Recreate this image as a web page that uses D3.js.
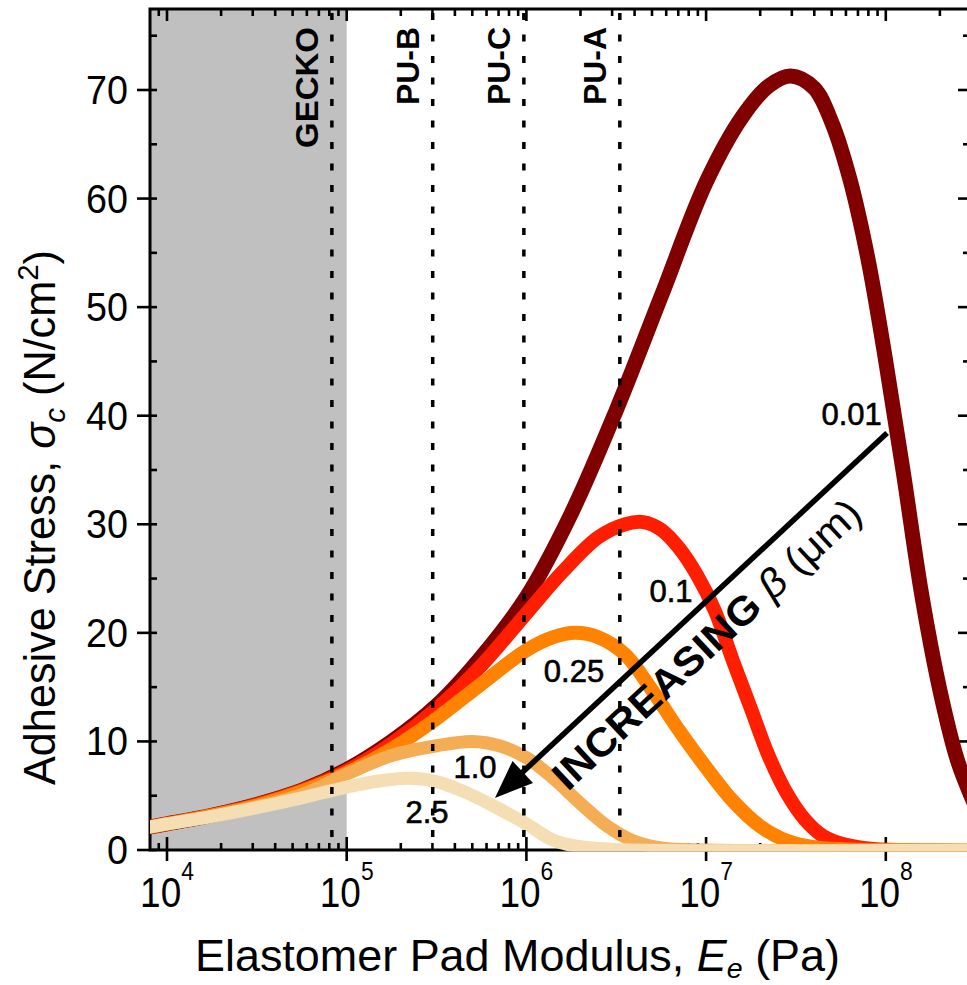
<!DOCTYPE html>
<html><head><meta charset="utf-8">
<script src="https://cdn.jsdelivr.net/npm/d3@7"></script>
<style>
html,body{margin:0;padding:0;background:#fff;}
text{font-family:"Liberation Sans",Arial,Helvetica,sans-serif;}
</style></head>
<body>
<svg id="chart" width="967" height="985"></svg>
<script>
// ---------- DATA ----------
// log10 of modulus E (Pa) and adhesive stress (N/cm^2) for each beta (um)
const beta001_logE = [3.9,4.0,4.25,4.5,4.75,5.0,5.25,5.5,5.75,6.0,6.25,6.5,6.75,7.0,7.2,7.35,7.47,7.6,7.7,7.8,7.9,8.0,8.1,8.2,8.3,8.4,8.5];
const beta001_S    = [2.1,2.4,3.2,4.2,5.5,7.4,10.0,13.3,17.8,23.3,31.0,40.5,51.0,61.5,67.5,70.4,71.3,70.2,67.0,61.8,54.5,45.0,34.5,23.5,14.8,8.2,4.0];

const beta01_logE = [3.9,4.0,4.25,4.5,4.75,5.0,5.25,5.5,5.75,6.0,6.2,6.4,6.55,6.65,6.75,6.85,6.95,7.05,7.15,7.25,7.35,7.45,7.55,7.65,7.75,7.9,8.1,8.5];
const beta01_S    = [2.1,2.4,3.2,4.2,5.5,7.3,9.8,13.0,17.0,21.8,25.6,28.8,30.0,30.2,29.5,27.8,25.3,22.0,17.4,13.0,8.6,5.2,2.8,1.3,0.6,0.15,0.0,0.0];

const beta025_logE = [3.9,4.0,4.25,4.5,4.75,5.0,5.25,5.5,5.75,6.0,6.15,6.27,6.4,6.55,6.7,6.85,7.0,7.15,7.3,7.45,7.6,7.8,8.5];
const beta025_S    = [2.1,2.4,3.2,4.1,5.4,7.1,9.3,12.1,15.3,18.4,19.6,20.0,19.6,18.0,14.7,11.0,7.6,4.5,2.2,0.85,0.25,0.05,0];

const beta10_logE = [3.9,4.0,4.25,4.5,4.75,5.0,5.25,5.5,5.7,5.85,6.0,6.15,6.3,6.45,6.6,6.75,7.0,8.5];
const beta10_S    = [2.1,2.4,3.1,4.0,5.1,7.0,8.7,9.6,10.0,9.6,8.5,6.6,4.3,2.2,0.8,0.2,0,0];

const beta25_logE = [3.9,4.0,4.25,4.5,4.75,5.0,5.2,5.35,5.5,5.65,5.8,6.0,6.15,6.3,6.5,8.5];
const beta25_S    = [2.1,2.4,3.1,3.9,4.8,5.8,6.4,6.6,6.3,5.4,4.2,2.4,0.9,0.3,0.05,0];

const seriesNames  = ["0.01","0.1","0.25","1.0","2.5"];
const seriesColors = ["#800000","#ff1e00","#ff8200","#f5ad55","#f5deb3"];

// Reference moduli (Pa) for the dotted lines
const refNames  = ["GECKO","PU-B","PU-C","PU-A"];
const refModuli = [8.27e4, 3.01e5, 9.68e5, 3.31e6];

// Curve label anchors (log10 E, stress)
const labelLogE = [7.81, 6.805, 6.265, 5.714, 5.447];
const labelS    = [39.1, 22.8, 15.5, 6.6, 2.5];

// Axis ticks
const xMajorTicks = [1e4,1e5,1e6,1e7,1e8];
const xTickExp    = ["4","5","6","7","8"];
const yMajorTicks = [0,10,20,30,40,50,60,70];
const yMinorTicks = [5,15,25,35,45,55,65,75];

// Shaded region (Pa) and arrow (log10 E, stress)
const shadeRange = [10**3.9054, 1e5];
const arrowFrom  = [8.007, 38.4];
const arrowTo    = [5.825, 4.8];
const arrowTextAt = [7.0, 19.0];

// ---------- CHART ----------
const L = 150, R = 970, T = 9, B = 850;
const svg = d3.select("#chart");
const x = d3.scaleLog().domain([10**3.9054, 10**8.4686]).range([L, R]);
const y = d3.scaleLinear().domain([0, 77.46]).range([B, T]);

svg.append("defs").append("clipPath").attr("id","clip")
  .append("rect").attr("x",L).attr("y",T).attr("width",R-L).attr("height",B-T+1.5);

// gray shading
svg.append("rect").attr("x",x(shadeRange[0])).attr("y",T)
  .attr("width",x(shadeRange[1])-x(shadeRange[0])).attr("height",B-T)
  .attr("fill","#c0c0c0");

// minor x ticks
const xMinor = [];
for (let k=3;k<=8;k++) for (let m=2;m<=9;m++){ const v=m*10**k; if (v>x.domain()[0] && v<x.domain()[1]) xMinor.push(v); }

const ax = svg.append("g").attr("stroke","#000").attr("stroke-width",2.6).attr("fill","none");
ax.append("path").attr("d",`M${L},${B}V${T}H${R}V${B}Z`).attr("stroke-width",3);
xMajorTicks.forEach(v=>ax.append("line").attr("x1",x(v)).attr("x2",x(v)).attr("y1",B-13).attr("y2",B+11));
xMinor.forEach(v=>ax.append("line").attr("x1",x(v)).attr("x2",x(v)).attr("y1",B-7).attr("y2",B));
xMajorTicks.forEach(v=>ax.append("line").attr("x1",x(v)).attr("x2",x(v)).attr("y1",T).attr("y2",T+12));
xMinor.forEach(v=>ax.append("line").attr("x1",x(v)).attr("x2",x(v)).attr("y1",T).attr("y2",T+7));
yMajorTicks.forEach(v=>ax.append("line").attr("x1",L-13).attr("x2",L+7).attr("y1",y(v)).attr("y2",y(v)));
yMinorTicks.forEach(v=>ax.append("line").attr("x1",L).attr("x2",L+7).attr("y1",y(v)).attr("y2",y(v)));
yMajorTicks.forEach(v=>ax.append("line").attr("x1",R-12).attr("x2",R).attr("y1",y(v)).attr("y2",y(v)));
yMinorTicks.forEach(v=>ax.append("line").attr("x1",R-7).attr("x2",R).attr("y1",y(v)).attr("y2",y(v)));

// curves
const allLogE = [beta001_logE,beta01_logE,beta025_logE,beta10_logE,beta25_logE];
const allS    = [beta001_S,beta01_S,beta025_S,beta10_S,beta25_S];
const line = d3.line().x(d=>x(10**d[0])).y(d=>y(d[1])).curve(d3.curveCatmullRom.alpha(0.5));
const cg = svg.append("g").attr("clip-path","url(#clip)");
const widths = [15,14,14,13,13];
allLogE.forEach((le,i)=>{
  const pts = le.map((v,j)=>[v, allS[i][j]]);
  cg.append("path").attr("d",line(pts)).attr("fill","none")
    .attr("stroke",seriesColors[i]).attr("stroke-width",widths[i])
    .attr("stroke-linejoin","round");
});

// dotted reference lines
refModuli.forEach((v,i)=>{
  svg.append("line").attr("x1",x(v)).attr("x2",x(v)).attr("y1",T+4).attr("y2",B)
    .attr("stroke","#000").attr("stroke-width",3.5).attr("stroke-dasharray","7,14.5");
  svg.append("text").attr("transform",`translate(${x(v)-14},${T+18}) rotate(-90)`)
    .attr("text-anchor","end").attr("font-size",31).attr("font-weight","bold")
    .attr("textLength", refNames[i]==="GECKO"?121:78).attr("lengthAdjust","spacingAndGlyphs")
    .text(refNames[i]);
});

// curve labels
seriesNames.forEach((n,i)=>{
  svg.append("text").attr("x",x(10**labelLogE[i])).attr("y",y(labelS[i]))
    .attr("text-anchor","middle").attr("font-size",31)
    .attr("stroke","#000").attr("stroke-width",0.6)
    .text(n);
});

// arrow
const ax0 = x(10**arrowFrom[0]), ay0 = y(arrowFrom[1]);
const ax1 = x(10**arrowTo[0]),   ay1 = y(arrowTo[1]);
const ang = Math.atan2(ay1-ay0, ax1-ax0);
const headLen = 38, headHalf = 15;
const bx = ax1 - headLen*Math.cos(ang), by = ay1 - headLen*Math.sin(ang);
svg.append("line").attr("x1",ax0).attr("y1",ay0).attr("x2",bx+4*Math.cos(ang)).attr("y2",by+4*Math.sin(ang))
  .attr("stroke","#000").attr("stroke-width",5.5);
svg.append("polygon").attr("points",[
  [ax1,ay1],
  [bx + headHalf*Math.sin(ang), by - headHalf*Math.cos(ang)],
  [bx - headHalf*Math.sin(ang), by + headHalf*Math.cos(ang)]
].map(p=>p.join(",")).join(" ")).attr("fill","#000");

const textAngle = Math.atan2(ay0-ay1, ax0-ax1)*180/Math.PI;
const at = svg.append("text")
  .attr("transform",`translate(${x(10**arrowTextAt[0])},${y(arrowTextAt[1])}) rotate(${textAngle})`)
  .attr("text-anchor","middle").attr("dy","0.36em").attr("font-size",40)
  .attr("textLength",405).attr("lengthAdjust","spacingAndGlyphs");
at.append("tspan").attr("font-weight","bold").text("INCREASING ");
at.append("tspan").attr("font-style","italic").text("β");
at.append("tspan").text(" (μm)");

// x tick labels
xMajorTicks.forEach((v,i)=>{
  const g = svg.append("g").attr("transform",`translate(${x(v)},907) scale(0.88,1)`);
  const t = g.append("text").attr("text-anchor","middle").attr("font-size",42);
  t.append("tspan").text("10");
  t.append("tspan").attr("font-size",26).attr("dy",-27).text(xTickExp[i]);
});
// y tick labels
yMajorTicks.forEach(v=>{
  svg.append("g").attr("transform",`translate(128,${y(v)+14}) scale(0.92,1)`)
    .append("text").attr("text-anchor","end").attr("font-size",41).text(v);
});

// axis titles
const xt = svg.append("text").attr("x",195).attr("y",971).attr("font-size",44)
  .attr("textLength",645).attr("lengthAdjust","spacingAndGlyphs");
xt.append("tspan").text("Elastomer Pad Modulus, ");
xt.append("tspan").attr("font-style","italic").text("E");
xt.append("tspan").attr("font-style","italic").attr("font-size",28).attr("dy",7).text("e");
xt.append("tspan").attr("dy",-7).text(" (Pa)");

const yt = svg.append("text").attr("transform","translate(55,785) rotate(-90)").attr("font-size",44)
  .attr("textLength",535).attr("lengthAdjust","spacingAndGlyphs");
yt.append("tspan").text("Adhesive Stress, ");
yt.append("tspan").attr("font-style","italic").text("σ");
yt.append("tspan").attr("font-style","italic").attr("font-size",30).attr("dy",10).text("c");
yt.append("tspan").attr("dy",-10).text(" (N/cm");
yt.append("tspan").attr("font-size",30).attr("dy",-17).text("2");
yt.append("tspan").attr("dy",17).text(")");
</script>
</body></html>
